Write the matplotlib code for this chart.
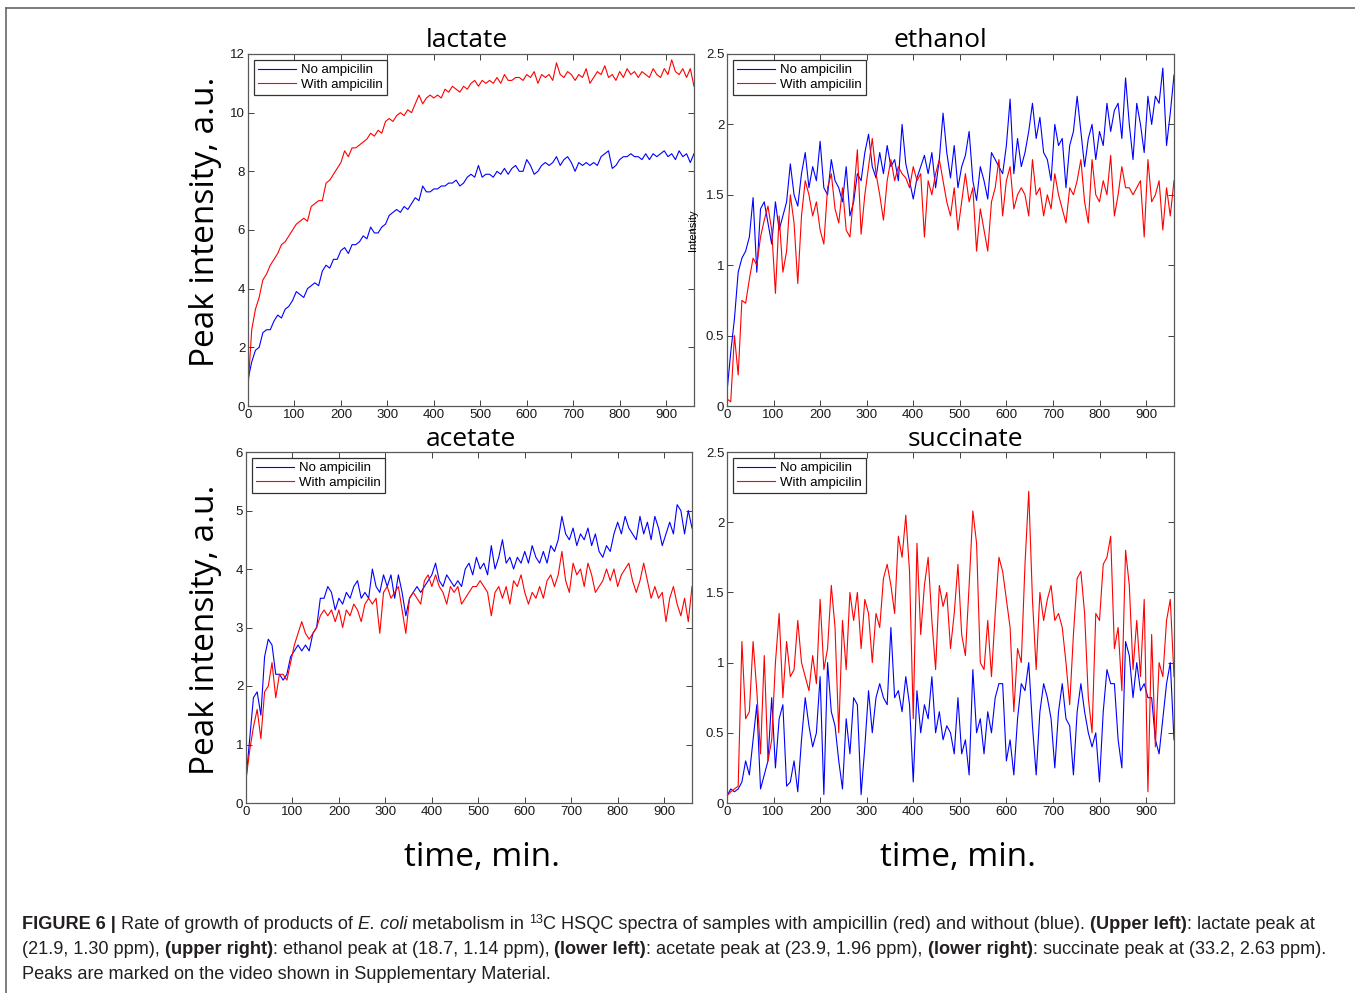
import numpy as np
import matplotlib
matplotlib.use("Agg")
import matplotlib.pyplot as plt
from matplotlib.lines import Line2D
from matplotlib.ticker import FormatStrFormatter, MultipleLocator

# time axis, minutes (one point every 8 min)
t = np.arange(0, 961, 8)

lactate_no = [
    0.9, 1.5, 1.9, 2.0, 2.5, 2.6, 2.6, 2.9, 3.1, 3.0,
    3.3, 3.4, 3.6, 3.9, 3.8, 3.7, 4.0, 4.1, 4.2, 4.1,
    4.6, 4.8, 4.7, 5.0, 5.0, 5.3, 5.4, 5.2, 5.5, 5.5,
    5.6, 5.8, 5.7, 6.1, 5.9, 5.9, 6.1, 6.2, 6.5, 6.6,
    6.7, 6.6, 6.8, 6.7, 6.9, 7.1, 7.0, 7.5, 7.3, 7.3,
    7.4, 7.4, 7.5, 7.5, 7.6, 7.6, 7.7, 7.5, 7.6, 7.8,
    7.9, 7.8, 8.2, 7.8, 7.9, 7.9, 7.8, 8.0, 7.9, 8.1,
    7.9, 8.1, 8.2, 8.0, 8.0, 8.4, 8.2, 7.9, 8.0, 8.2,
    8.3, 8.2, 8.3, 8.5, 8.2, 8.4, 8.5, 8.3, 8.0, 8.3,
    8.2, 8.3, 8.2, 8.3, 8.2, 8.5, 8.6, 8.7, 8.1, 8.2,
    8.4, 8.5, 8.5, 8.6, 8.5, 8.5, 8.4, 8.6, 8.4, 8.6,
    8.5, 8.6, 8.7, 8.5, 8.6, 8.4, 8.7, 8.5, 8.6, 8.3,
    8.6]
lactate_amp = [
    0.6, 2.6, 3.3, 3.7, 4.3, 4.5, 4.8, 5.0, 5.2, 5.5,
    5.6, 5.8, 6.0, 6.2, 6.3, 6.4, 6.3, 6.8, 6.9, 7.0,
    7.0, 7.6, 7.7, 7.9, 8.1, 8.3, 8.7, 8.5, 8.8, 8.8,
    8.9, 9.0, 9.1, 9.3, 9.2, 9.4, 9.3, 9.7, 9.8, 9.7,
    9.9, 10.0, 9.9, 10.1, 10.0, 10.3, 10.6, 10.3, 10.5, 10.6,
    10.5, 10.6, 10.5, 10.8, 10.7, 10.9, 10.8, 10.7, 10.9, 10.8,
    11.0, 11.1, 10.9, 11.1, 11.0, 11.1, 11.0, 11.2, 11.0, 11.3,
    11.1, 11.1, 11.2, 11.2, 11.1, 11.3, 11.2, 11.4, 11.0, 11.3,
    11.2, 11.3, 11.1, 11.7, 11.3, 11.2, 11.4, 11.3, 11.1, 11.3,
    11.2, 11.5, 11.0, 11.2, 11.4, 11.3, 11.6, 11.2, 11.3, 11.1,
    11.4, 11.2, 11.5, 11.3, 11.4, 11.2, 11.4, 11.3, 11.2, 11.5,
    11.3, 11.2, 11.5, 11.3, 11.8, 11.4, 11.3, 11.5, 11.2, 11.5,
    10.9]

ethanol_no = [
    0.10, 0.38, 0.62, 0.95, 1.05, 1.10, 1.20, 1.48, 0.95, 1.40,
    1.45, 1.30, 1.15, 1.45, 1.25, 1.35, 1.45, 1.72, 1.50, 1.42,
    1.65, 1.80, 1.55, 1.70, 1.60, 1.88, 1.55, 1.50, 1.75, 1.60,
    1.55, 1.45, 1.70, 1.35, 1.45, 1.65, 1.60, 1.80, 1.93, 1.70,
    1.62, 1.80, 1.65, 1.85, 1.70, 1.75, 1.60, 2.00, 1.72, 1.60,
    1.47, 1.62, 1.70, 1.78, 1.65, 1.80, 1.55, 1.75, 2.08, 1.80,
    1.62, 1.85, 1.55, 1.70, 1.78, 1.95, 1.60, 1.46, 1.70, 1.60,
    1.47, 1.80, 1.75, 1.70, 1.65, 1.85, 2.18, 1.65, 1.90, 1.70,
    1.80, 1.95, 2.15, 1.90, 2.05, 1.80, 1.75, 1.60, 2.00, 1.85,
    1.90, 1.55, 1.85, 1.95, 2.20, 1.95, 1.70, 1.90, 2.00, 1.75,
    1.95, 1.85, 2.15, 1.95, 2.10, 2.15, 1.90, 2.33, 2.00, 1.75,
    2.15, 2.00, 1.80, 2.20, 2.00, 2.20, 2.15, 2.40, 1.85, 2.08,
    2.35]
ethanol_amp = [
    0.05, 0.03, 0.50, 0.22, 0.75, 0.73, 0.90, 1.05, 1.00, 1.20,
    1.32, 1.42, 1.25, 0.80, 1.35, 0.95, 1.10, 1.50, 1.30, 0.87,
    1.35, 1.60, 1.50, 1.35, 1.45, 1.25, 1.15, 1.55, 1.65, 1.40,
    1.30, 1.55, 1.25, 1.20, 1.50, 1.82, 1.22, 1.50, 1.70, 1.90,
    1.65, 1.50, 1.32, 1.60, 1.75, 1.60, 1.70, 1.65, 1.62, 1.55,
    1.70, 1.60, 1.65, 1.20, 1.60, 1.50, 1.65, 1.75, 1.60, 1.45,
    1.35, 1.55, 1.25, 1.45, 1.65, 1.45, 1.55, 1.10, 1.40, 1.25,
    1.10, 1.45, 1.55, 1.75, 1.35, 1.60, 1.70, 1.40, 1.50, 1.55,
    1.50, 1.35, 1.75, 1.50, 1.55, 1.35, 1.50, 1.40, 1.65, 1.50,
    1.40, 1.30, 1.55, 1.50, 1.60, 1.75, 1.45, 1.30, 1.75, 1.50,
    1.45, 1.60, 1.50, 1.78, 1.35, 1.50, 1.70, 1.55, 1.55, 1.50,
    1.55, 1.60, 1.20, 1.75, 1.45, 1.50, 1.60, 1.25, 1.55, 1.35,
    1.60]

acetate_no = [
    0.4, 1.1, 1.8, 1.9, 1.5, 2.5, 2.8, 2.7, 2.2, 2.2,
    2.1, 2.2, 2.5, 2.6, 2.7, 2.6, 2.7, 2.6, 2.9, 3.0,
    3.5, 3.5, 3.7, 3.6, 3.3, 3.5, 3.4, 3.6, 3.5, 3.7,
    3.8, 3.5, 3.6, 3.5, 4.0, 3.7, 3.6, 3.9, 3.7, 3.9,
    3.5, 3.9, 3.6, 3.2, 3.5, 3.6, 3.7, 3.6, 3.7, 3.8,
    3.9, 4.1, 3.8, 3.7, 3.9, 3.8, 3.7, 3.8, 3.7, 4.0,
    4.1, 3.9, 4.2, 4.0, 4.1, 3.9, 4.4, 4.0, 4.2, 4.5,
    4.1, 4.2, 4.0, 4.2, 4.1, 4.3, 4.1, 4.4, 4.2, 4.1,
    4.3, 4.1, 4.4, 4.3, 4.5, 4.9, 4.6, 4.5, 4.7, 4.4,
    4.6, 4.5, 4.7, 4.4, 4.6, 4.3, 4.2, 4.4, 4.3, 4.6,
    4.8, 4.6, 4.9, 4.7, 4.6, 4.5, 4.9, 4.6, 4.8, 4.5,
    4.9, 4.7, 4.4, 4.6, 4.8, 4.6, 5.1, 5.0, 4.6, 5.0,
    4.7]
acetate_amp = [
    0.4, 0.9, 1.3, 1.6, 1.1, 1.9, 2.0, 2.4, 1.8, 2.2,
    2.2, 2.1, 2.4, 2.7, 2.9, 3.1, 2.9, 2.8, 2.9, 3.0,
    3.2, 3.3, 3.2, 3.3, 3.1, 3.3, 3.0, 3.3, 3.2, 3.4,
    3.3, 3.1, 3.4, 3.5, 3.4, 3.5, 2.9, 3.6, 3.7, 3.5,
    3.6, 3.7, 3.3, 2.9, 3.5, 3.6, 3.5, 3.4, 3.8, 3.9,
    3.7, 3.9, 3.7, 3.6, 3.4, 3.7, 3.6, 3.7, 3.4, 3.5,
    3.6, 3.7, 3.7, 3.8, 3.7, 3.6, 3.2, 3.6, 3.7, 3.5,
    3.7, 3.4, 3.8, 3.7, 3.9, 3.6, 3.4, 3.6, 3.5, 3.7,
    3.5, 3.8, 3.9, 3.7, 3.9, 4.3, 3.8, 3.6, 4.1, 3.9,
    4.0, 3.7, 4.1, 3.9, 3.6, 3.7, 3.8, 4.0, 3.8, 4.0,
    3.7, 3.9, 4.0, 4.1, 3.8, 3.6, 3.8, 4.1, 3.8, 3.5,
    3.7, 3.5, 3.6, 3.1, 3.5, 3.7, 3.4, 3.2, 3.5, 3.1,
    3.7]

succinate_no = [
    0.05, 0.10, 0.08, 0.10, 0.15, 0.30, 0.20, 0.45, 0.70, 0.10,
    0.20, 0.30, 0.75, 0.25, 0.60, 0.70, 0.12, 0.15, 0.30, 0.08,
    0.45, 0.75, 0.55, 0.40, 0.50, 0.90, 0.06, 1.00, 0.65, 0.55,
    0.30, 0.10, 0.60, 0.35, 0.75, 0.70, 0.06, 0.40, 0.80, 0.50,
    0.75, 0.85, 0.75, 0.70, 1.25, 0.75, 0.80, 0.65, 0.90, 0.70,
    0.15, 0.80, 0.50, 0.70, 0.60, 0.90, 0.50, 0.65, 0.45, 0.55,
    0.50, 0.35, 0.75, 0.35, 0.45, 0.20, 0.95, 0.50, 0.60, 0.35,
    0.65, 0.50, 0.75, 0.85, 0.85, 0.30, 0.45, 0.20, 0.60, 0.85,
    0.80, 1.00, 0.55, 0.20, 0.65, 0.85, 0.75, 0.60, 0.25, 0.65,
    0.85, 0.60, 0.55, 0.20, 0.65, 0.85, 0.65, 0.50, 0.40, 0.50,
    0.15, 0.65, 0.95, 0.85, 0.85, 0.45, 0.25, 1.15, 1.05, 0.75,
    1.00, 0.80, 0.85, 0.75, 0.75, 0.45, 0.35, 0.60, 0.85, 1.00,
    0.45]
succinate_amp = [
    0.05, 0.08, 0.10, 0.12, 1.15, 0.60, 0.65, 1.15, 0.80, 0.35,
    1.05, 0.30, 0.45, 1.00, 1.35, 0.75, 1.15, 0.90, 0.95, 1.30,
    1.00, 0.90, 0.80, 1.05, 0.85, 1.45, 0.95, 1.10, 1.55, 1.25,
    0.50, 1.30, 0.95, 1.50, 1.30, 1.50, 1.10, 1.45, 1.35, 1.00,
    1.35, 1.25, 1.60, 1.70, 1.55, 1.35, 1.90, 1.75, 2.05, 1.65,
    0.60, 1.85, 1.20, 1.55, 1.75, 1.30, 0.95, 1.55, 1.40, 1.50,
    1.10, 1.35, 1.70, 1.20, 1.05, 1.55, 2.08, 1.85, 1.00, 0.95,
    1.30, 0.90, 1.35, 1.75, 1.65, 1.45, 1.25, 0.65, 1.10, 1.00,
    1.70, 2.22, 1.45, 0.95, 1.50, 1.30, 1.45, 1.55, 1.30, 1.35,
    1.25, 1.00, 0.70, 1.20, 1.60, 1.65, 1.35, 0.75, 0.50, 1.35,
    1.30, 1.70, 1.75, 1.90, 1.10, 1.25, 0.80, 1.80, 1.55, 0.95,
    1.30, 0.90, 1.45, 0.08, 1.20, 0.40, 1.00, 0.90, 1.30, 1.45,
    0.90]

legend_labels = ["No ampicilin", "With ampicilin"]

W, H = 1355, 993
fig = plt.figure(figsize=(W / 100, H / 100), dpi=100)

tick_font = ["Liberation Sans Narrow", "Liberation Sans", "DejaVu Sans"]
big_font = ["Open Sans", "DejaVu Sans"]


def px_axes(left, top, right, bottom):
    return fig.add_axes([left / W, 1 - bottom / H, (right - left) / W, (bottom - top) / H])


def style(ax, ymax, ystep, fmt):
    ax.set_xlim(0, 960)
    ax.set_ylim(0, ymax)
    ax.xaxis.set_major_locator(MultipleLocator(100))
    ax.yaxis.set_major_locator(MultipleLocator(ystep))
    ax.yaxis.set_major_formatter(FormatStrFormatter(fmt))
    ax.tick_params(direction="in", top=True, right=True, length=4, width=0.7,
                   labelsize=9.5, pad=2, color="0.25", labelcolor="0.1")
    for lab in ax.get_xticklabels() + ax.get_yticklabels():
        lab.set_family(tick_font)
    for s in ax.spines.values():
        s.set_color("0.35")
        s.set_linewidth(0.9)
    leg = ax.legend(legend_labels, loc="upper left", fancybox=False, framealpha=1,
                    edgecolor="0.2", borderaxespad=0.45, borderpad=0.3,
                    labelspacing=0.2, handlelength=2.9, handletextpad=0.4,
                    prop={"family": tick_font, "size": 9.5})
    leg.get_frame().set_linewidth(0.9)


panels = [
    ((248, 54, 694, 406), lactate_no, lactate_amp, 12, 2, "%g"),
    ((727, 54, 1174, 406), ethanol_no, ethanol_amp, 2.5, 0.5, "%g"),
    ((246, 452, 692, 803), acetate_no, acetate_amp, 6, 1, "%g"),
    ((727, 452, 1174, 803), succinate_no, succinate_amp, 2.5, 0.5, "%g"),
]
for box, y_no, y_amp, ymax, ystep, fmt in panels:
    ax = px_axes(*box)
    ax.plot(t, y_no, color="#0000ff", lw=0.8)
    ax.plot(t, y_amp, color="#ff0000", lw=0.8)
    style(ax, ymax, ystep, fmt)

# panel titles
for x, y, name in [(467, 47, "lactate"), (940, 47, "ethanol"),
                   (471, 446, "acetate"), (965, 446, "succinate")]:
    fig.text(x / W, 1 - y / H, name, ha="center", va="baseline",
             fontsize=19, family=big_font)

for y in (222, 630):
    fig.text(205 / W, 1 - y / H, "Peak intensity, a.u.", rotation=90,
             ha="center", va="center", fontsize=24, family=big_font)
for x in (482, 958):
    fig.text(x / W, 1 - 858 / H, "time, min.", ha="center", va="center",
             fontsize=24, family=big_font)
fig.text(693 / W, 1 - 230 / H, "Intensity", rotation=90, ha="center",
         va="center", fontsize=8, family=tick_font)

# outer frame of the figure page
fig.add_artist(Line2D([6 / W, 6 / W], [0, 1 - 8 / H], color="0.4", lw=1.2))
fig.add_artist(Line2D([6 / W, 1], [1 - 8 / H, 1 - 8 / H], color="0.4", lw=1.2))

# caption with mixed styles
renderer = fig.canvas.get_renderer()
cap_size = 13.05
cap_color = "#231f20"


def text_width(s, **kw):
    a = fig.text(0, 0, s + "|", fontsize=kw.pop("size", cap_size), **kw)
    b = fig.text(0, 0, "|", fontsize=a.get_fontsize(), **kw)
    w = a.get_window_extent(renderer).width - b.get_window_extent(renderer).width
    a.remove()
    b.remove()
    return w


def caption_line(y, parts):
    x = 22
    for s, kw in parts:
        kw = dict(kw)
        size = kw.pop("size", cap_size)
        dy = kw.pop("dy", 0)
        fig.text(x / W, 1 - (y - dy) / H, s, fontsize=size, va="baseline",
                 color=cap_color, family="Liberation Sans", **kw)
        x += text_width(s, size=size, family="Liberation Sans", **kw)


B = {"weight": "bold"}
N = {}
caption_line(929, [
    ("FIGURE 6 |", B), (" Rate of growth of products of ", N), ("E. coli", {"style": "italic"}),
    (" metabolism in ", N), ("13", {"size": 9, "dy": 6}),
    ("C HSQC spectra of samples with ampicillin (red) and without (blue). ", N),
    ("(Upper left)", B), (": lactate peak at", N)])
caption_line(954, [
    ("(21.9, 1.30 ppm), ", N), ("(upper right)", B), (": ethanol peak at (18.7, 1.14 ppm), ", N),
    ("(lower left)", B), (": acetate peak at (23.9, 1.96 ppm), ", N), ("(lower right)", B),
    (": succinate peak at (33.2, 2.63 ppm).", N)])
caption_line(979, [("Peaks are marked on the video shown in Supplementary Material.", N)])

fig.savefig("out.png", dpi=100, facecolor="white")
